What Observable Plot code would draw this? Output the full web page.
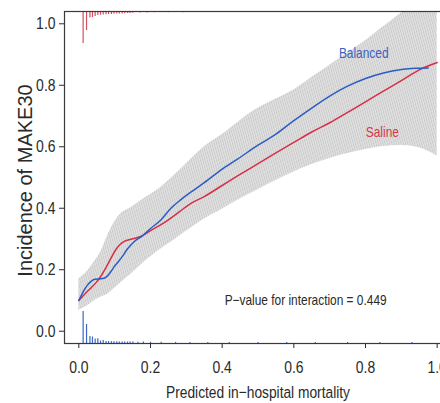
<!DOCTYPE html>
<html><head><meta charset="utf-8">
<script src="https://cdn.jsdelivr.net/npm/d3@7"></script>
<script src="https://cdn.jsdelivr.net/npm/@observablehq/plot@0.6"></script>
<style>html,body{margin:0;padding:0;background:#fff;overflow:hidden}</style>
</head><body><div id="chart"></div>
<script>
// Confidence band (pooled)
const bandX  = [0, 0.02, 0.04, 0.06, 0.08, 0.1, 0.12, 0.145, 0.175, 0.22, 0.26, 0.3, 0.35, 0.4, 0.45, 0.5, 0.55, 0.6, 0.65, 0.7, 0.75, 0.8, 0.85, 0.9, 0.95, 1.0];
const bandHi = [0.17, 0.19, 0.22, 0.255, 0.31, 0.355, 0.385, 0.402, 0.426, 0.46, 0.50, 0.545, 0.60, 0.64, 0.685, 0.725, 0.755, 0.785, 0.825, 0.865, 0.905, 0.945, 0.99, 1.035, 1.08, 1.12];
const bandLo = [0.068, 0.08, 0.097, 0.11, 0.12, 0.14, 0.16, 0.185, 0.217, 0.26, 0.292, 0.325, 0.365, 0.397, 0.43, 0.46, 0.49, 0.518, 0.542, 0.562, 0.578, 0.591, 0.601, 0.604, 0.597, 0.57];

// Balanced curve
const balX = [0, 0.012, 0.024, 0.035, 0.045, 0.058, 0.07, 0.08, 0.09, 0.1, 0.11, 0.12, 0.136, 0.155, 0.178, 0.2, 0.229, 0.257, 0.285, 0.322, 0.35, 0.4, 0.443, 0.5, 0.55, 0.6, 0.65, 0.7, 0.75, 0.8, 0.85, 0.9, 0.94, 0.975];
const balY = [0.100, 0.128, 0.150, 0.163, 0.169, 0.170, 0.172, 0.180, 0.195, 0.212, 0.226, 0.241, 0.268, 0.292, 0.311, 0.334, 0.362, 0.400, 0.428, 0.460, 0.483, 0.527, 0.560, 0.605, 0.641, 0.685, 0.726, 0.765, 0.797, 0.822, 0.840, 0.851, 0.855, 0.856];

// Saline curve
const salX = [0, 0.012, 0.024, 0.034, 0.048, 0.061, 0.075, 0.089, 0.103, 0.115, 0.127, 0.145, 0.164, 0.178, 0.2, 0.247, 0.28, 0.313, 0.35, 0.4, 0.443, 0.5, 0.55, 0.6, 0.65, 0.7, 0.75, 0.8, 0.85, 0.9, 0.95, 1.0];
const salY = [0.100, 0.115, 0.130, 0.141, 0.158, 0.178, 0.205, 0.236, 0.265, 0.282, 0.292, 0.299, 0.305, 0.311, 0.327, 0.360, 0.388, 0.416, 0.438, 0.474, 0.505, 0.545, 0.580, 0.614, 0.648, 0.678, 0.712, 0.746, 0.781, 0.815, 0.850, 0.874];

// Spike histograms (relative frequency): saline at top, balanced at bottom
const rugTopX = [0.012, 0.0215, 0.031, 0.038, 0.0455, 0.053, 0.0605, 0.068, 0.076, 0.083, 0.091, 0.098, 0.106, 0.113, 0.121, 0.128, 0.136, 0.143, 0.151, 0.17, 0.19, 0.21, 0.25, 0.29, 0.34, 0.40, 0.47, 0.535, 0.6, 0.68, 0.77, 0.86, 0.95];
const rugTopF = [32, 19, 6.5, 6, 5, 4, 3.7, 3.4, 3.2, 3, 3, 2.8, 2.6, 2.5, 2.4, 2.2, 2, 2, 1.8, 1.5, 1.4, 1.3, 1.2, 1.2, 1.1, 1, 1, 1, 1, 1, 1, 1, 1];
const rugBotX = [0.012, 0.0215, 0.031, 0.038, 0.0455, 0.053, 0.0605, 0.068, 0.076, 0.083, 0.091, 0.098, 0.106, 0.113, 0.121, 0.128, 0.136, 0.143, 0.151, 0.165, 0.18, 0.2, 0.23, 0.27, 0.31, 0.36, 0.42, 0.5, 0.58, 0.66, 0.75, 0.84, 0.93];
const rugBotF = [32, 19, 7, 6.5, 4.5, 4.7, 2.5, 3, 2, 2, 1.8, 1.8, 1.7, 1.6, 1.6, 1.5, 1.5, 1.4, 1.4, 1.3, 1.5, 1.2, 1.2, 1.1, 1.1, 1, 1, 1, 1, 1, 1, 1, 1];

const xTicks = [0, 0.2, 0.4, 0.6, 0.8, 1.0];
const yTicks = [0, 0.2, 0.4, 0.6, 0.8, 1.0];

const seriesLabels = [
  {x: 0.795, y: 0.903, text: "Balanced", color: "#3a62c0"},
  {x: 0.847, y: 0.647, text: "Saline", color: "#d8364c"}
];
const pNote = [{x: 0.407, y: 0.10, text: "P\u2212value for interaction = 0.449"}];
const xTitle = "Predicted in\u2212hospital mortality";
const yTitle = "Incidence of MAKE30";

const band = bandX.map((x, i) => ({x, lo: bandLo[i], hi: bandHi[i]}));
const bal = balX.map((x, i) => ({x, y: balY[i]}));
const sal = salX.map((x, i) => ({x, y: salY[i]}));
const spikeK = 0.00325;
const rugTop = rugTopX.map((x, i) => ({x, f: rugTopF[i]}));
const rugBot = rugBotX.map((x, i) => ({x, f: rugBotF[i]}));

const sans = "'Liberation Sans', Arial, sans-serif";

const plot = Plot.plot({
  width: 440, height: 403,
  marginLeft: 64, marginRight: -11, marginTop: 11, marginBottom: 60,
  x: {domain: [-0.04, 1.04]},
  y: {domain: [-0.04, 1.04]},
  style: {fontFamily: sans, fontSize: "17px", color: "#2a2a2a", background: "white"},
  marks: [
    Plot.areaY(band, {x: "x", y1: "lo", y2: "hi", fill: "url(#hatch)", curve: "monotone-x", clip: true}),
    Plot.line(sal, {x: "x", y: "y", stroke: "#d62f45", strokeWidth: 1.5, curve: "monotone-x"}),
    Plot.line(bal, {x: "x", y: "y", stroke: "#2b5cc4", strokeWidth: 1.5, curve: "monotone-x"}),
    Plot.ruleX(rugTop, {x: "x", y1: 1.04, y2: d => 1.04 - d.f * spikeK, stroke: "#d4505e", strokeWidth: 1.2}),
    Plot.ruleX(rugBot, {x: "x", y1: -0.04, y2: d => -0.04 + d.f * spikeK, stroke: "#3a68c8", strokeWidth: 1.2}),
    Plot.frame({stroke: "#3a3a3a", strokeWidth: 1.2}),
    Plot.text(seriesLabels, {x: "x", y: "y", text: "text", fill: "color", fontSize: 14.5}),
    Plot.text(pNote, {x: "x", y: "y", text: "text", fill: "#2a2a2a", fontSize: 14.5, textAnchor: "start"}),
    Plot.axisY({ticks: yTicks, tickFormat: d3.format(".1f"), tickSize: 5, tickPadding: 4, label: null, color: "#2a2a2a"}),
    Plot.axisX({ticks: xTicks, tickFormat: d3.format(".1f"), tickSize: 5, tickPadding: 12, label: null, color: "#2a2a2a"}),
    Plot.text([xTitle], {frameAnchor: "bottom", lineAnchor: "bottom", textAnchor: "middle", dy: 54, fontSize: 16.8, fill: "#2a2a2a"}),
    Plot.text([yTitle], {frameAnchor: "left", textAnchor: "middle", rotate: -90, dx: -39, dy: 3, fontSize: 20, fill: "#2a2a2a"})
  ]
});

d3.select(plot).insert("defs", ":first-child").html(
  '<pattern id="hatch" patternUnits="userSpaceOnUse" width="2.2" height="2.2" patternTransform="rotate(-15)">' +
  '<rect width="2.2" height="2.2" fill="#e2e2e2"/>' +
  '<line x1="0.5" y1="0" x2="0.5" y2="2.2" stroke="#c6c6c6" stroke-width="0.8"/></pattern>'
);

document.getElementById("chart").appendChild(plot);

// condensed look (like Helvetica Narrow) for all texts but the y title
d3.select(plot).selectAll("text").each(function() {
  if (this.textContent === yTitle) return;
  const len = this.getComputedTextLength();
  if (len > 0) {
    this.setAttribute("textLength", (len * 0.82).toFixed(2));
    this.setAttribute("lengthAdjust", "spacingAndGlyphs");
  }
});
</script>
</body></html>
